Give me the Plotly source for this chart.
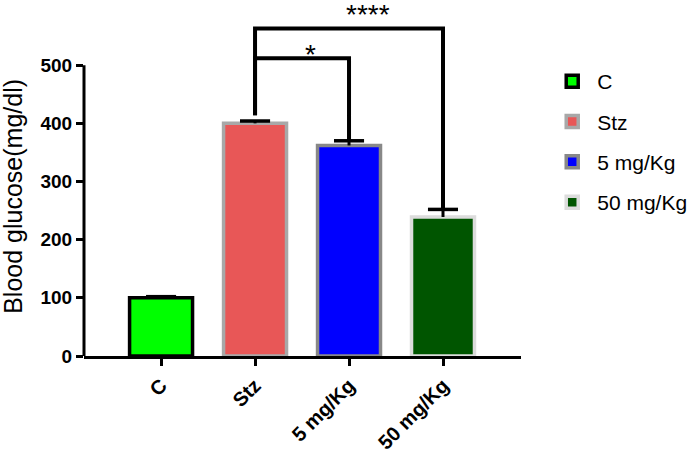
import plotly.graph_objects as go

groups = ["C", "Stz", "5 mg/Kg", "50 mg/Kg"]
glucose = [100, 400, 362, 239]
sem = [2, 4, 8, 13]

fill_colors = ["#00ff00", "#e85757", "#0000ff", "#005500"]
edge_colors = ["#000000", "#a8a8a8", "#888888", "#dcdcdc"]

# significance comparisons: (from, to, label, bracket height)
comparisons = [
    ("Stz", "5 mg/Kg", "*", 512),
    ("Stz", "50 mg/Kg", "****", 563),
]
left_leg_bottom = 414

yticks = [0, 100, 200, 300, 400, 500]

fig = go.Figure()
for g, v, fc, ec in zip(groups, glucose, fill_colors, edge_colors):
    fig.add_trace(go.Bar(
        x=[g], y=[v], name=g, width=0.67, legendgroup=g,
        marker=dict(color=fc, line=dict(color=ec, width=3.5)),
    ))

shapes = []
# one-sided (upper) SEM bars, GraphPad style
for i, (v, e) in enumerate(zip(glucose, sem)):
    shapes.append(dict(type="line", xref="x", yref="y", x0=i, x1=i, y0=v, y1=v + e,
                       line=dict(color="black", width=3)))
    shapes.append(dict(type="line", xref="x", yref="y", x0=i - 0.16, x1=i + 0.16,
                       y0=v + e, y1=v + e, line=dict(color="black", width=3.5)))

for a, b, label, h in comparisons:
    ia, ib = groups.index(a), groups.index(b)
    top_b = glucose[ib] + sem[ib]
    shapes.append(dict(type="path", xref="x", yref="y",
                       path=f"M {ia},{left_leg_bottom} L {ia},{h} L {ib},{h} L {ib},{top_b}",
                       line=dict(color="black", width=4)))
    many = len(label) > 1
    fig.add_annotation(x=(ia + ib) / 2, y=h, text=label, showarrow=False,
                       yanchor="bottom", yshift=-3 if many else -14, xshift=19 if many else 8,
                       font=dict(size=28, color="black", family="Liberation Sans"))

# y axis line only from 0 to 500
shapes.append(dict(type="line", xref="paper", yref="y", x0=0, x1=0, y0=0, y1=500,
                   line=dict(color="black", width=3)))

fig.add_annotation(text="Blood glucose(mg/dl)", textangle=-90, showarrow=False,
                   xref="paper", yref="y", x=-0.163, y=275, xanchor="center", yanchor="middle",
                   font=dict(size=25, color="black"))

fig.update_layout(
    width=700, height=451,
    margin=dict(l=84, r=179, t=7, b=95),
    plot_bgcolor="white", paper_bgcolor="white",
    font=dict(family="Liberation Sans, Arial", color="black"),
    barmode="overlay",
    shapes=shapes,
    showlegend=True,
    legend=dict(x=1.06, y=0.845, xanchor="left", yanchor="top",
                font=dict(size=21, color="black"), tracegroupgap=10,
                itemwidth=40),
)
fig.update_xaxes(
    range=[-0.82, 3.83], showline=True, linewidth=3, linecolor="black",
    ticks="outside", ticklen=7, tickwidth=3, tickcolor="black",
    tickangle=-45, tickfont=dict(size=20, family="Liberation Sans", color="black"),
    showgrid=False, zeroline=False, automargin=False,
    tickprefix="<b>", ticksuffix="</b>",
)
fig.update_yaxes(
    range=[0, 600], tickvals=yticks, ticktext=[f"<b>{t}</b>" for t in yticks],
    showline=False, ticks="outside", ticklen=7, tickwidth=3, tickcolor="black",
    tickfont=dict(size=19, color="black"),
    showgrid=False, zeroline=False, automargin=False,
)

fig.write_html("out.html", config={"displayModeBar": False},
               post_script="document.body.style.margin='0';")
